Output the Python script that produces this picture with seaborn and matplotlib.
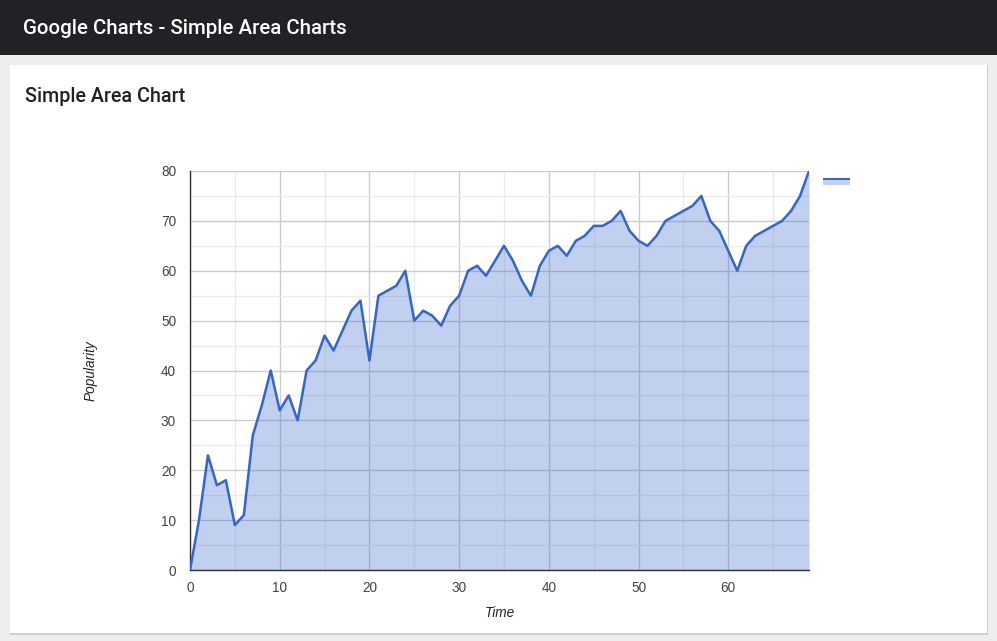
import numpy as np
import pandas as pd
import seaborn as sns
import matplotlib.pyplot as plt
from matplotlib.patches import Rectangle

# data
time = list(range(70))
popularity = [0, 10, 23, 17, 18, 9, 11, 27, 33, 40, 32, 35, 30, 40, 42, 47, 44, 48, 52, 54,
              42, 55, 56, 57, 60, 50, 52, 51, 49, 53, 55, 60, 61, 59, 62, 65, 62, 58, 55, 61,
              64, 65, 63, 66, 67, 69, 69, 70, 72, 68, 66, 65, 67, 70, 71, 72, 73, 75, 70, 68,
              64, 60, 65, 67, 68, 69, 70, 72, 75, 80]
x_ticks = [0, 10, 20, 30, 40, 50, 60]
y_ticks = [0, 10, 20, 30, 40, 50, 60, 70, 80]

df = pd.DataFrame({"Time": time, "Popularity": popularity})

sns.set_theme(style="white")
plt.rcParams['font.family'] = ['Liberation Sans', 'DejaVu Sans']

W, H = 997, 641
fig = plt.figure(figsize=(W / 100, H / 100), dpi=100)
fig.patch.set_facecolor("#eeeeee")

# header bar
fig.patches.append(Rectangle((0, 1 - 55 / H), 1, 55 / H, transform=fig.transFigure,
                             facecolor="#212226", edgecolor="none", zorder=-2))
# card shadow + card
fig.patches.append(Rectangle((10 / W, 1 - 635 / H), 978 / W, 570 / H, transform=fig.transFigure,
                             facecolor="#cfcfcf", edgecolor="none", zorder=-2))
fig.patches.append(Rectangle((10 / W, 1 - 633 / H), 977 / W, 568 / H, transform=fig.transFigure,
                             facecolor="white", edgecolor="none", zorder=-1))

fig.text(23 / W, 1 - 28 / H, "Google Charts - Simple Area Charts", color="white",
         fontsize=14.8, family=["Roboto", "DejaVu Sans"], weight="medium", va="center", ha="left")
fig.text(25 / W, 1 - 96 / H, "Simple Area Chart", color="#212121",
         fontsize=14.2, family=["Roboto", "DejaVu Sans"], weight="medium", va="center", ha="left")

ax = fig.add_axes([190 / W, 1 - 570 / H, 619 / W, 399 / H])
ax.set_facecolor("white")

ax.fill_between(df["Time"], df["Popularity"], 0, color="#3366cc", alpha=0.3, linewidth=0, zorder=2)
sns.lineplot(data=df, x="Time", y="Popularity", color="#3366cc", linewidth=1.8, ax=ax, zorder=3)

ax.set_xlim(0, 69)
ax.set_ylim(0, 80)
ax.set_xticks(x_ticks)
ax.set_yticks(y_ticks)
ax.set_xticks(np.arange(5, 69, 10), minor=True)
ax.set_yticks(np.arange(5, 80, 10), minor=True)
ax.grid(which="major", color="#cccccc", linewidth=1, zorder=1)
ax.grid(which="minor", color="#ebebeb", linewidth=1, zorder=1)
ax.set_axisbelow(True)
for s in ["top", "right"]:
    ax.spines[s].set_visible(False)
ax.spines["left"].set_color("#333333")
ax.spines["bottom"].set_color("#333333")
ax.spines["left"].set_linewidth(1)
ax.spines["bottom"].set_linewidth(1)
ax.tick_params(which="both", length=0, labelsize=9.8, labelcolor="#444444")
ax.tick_params(axis="y", pad=10)
ax.tick_params(axis="x", pad=8)
ax.set_xlabel("Time", fontsize=9.8, style="italic", color="#222222", labelpad=8)
ax.set_ylabel("Popularity", fontsize=9.8, style="italic", color="#222222", labelpad=46)

# legend swatch (no label)
fig.patches.append(Rectangle((823 / W, 1 - 185 / H), 27 / W, 6 / H, transform=fig.transFigure,
                             facecolor="#c2d1f0", edgecolor="none", zorder=5))
fig.patches.append(Rectangle((823 / W, 1 - 180 / H), 27 / W, 2 / H, transform=fig.transFigure,
                             facecolor="#3366cc", edgecolor="none", zorder=6))

fig.savefig("out.png", dpi=100)
